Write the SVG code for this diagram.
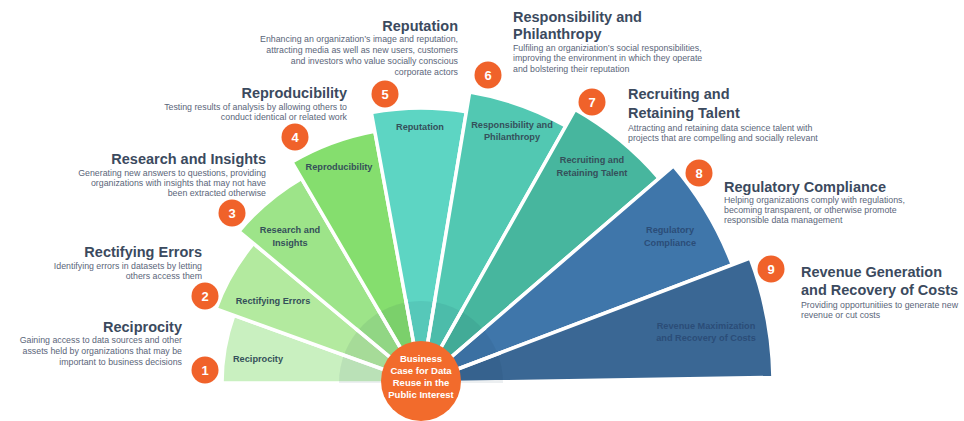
<svg xmlns="http://www.w3.org/2000/svg" width="964" height="421" viewBox="0 0 964 421">
<style>
text{font-family:"Liberation Sans",Arial,sans-serif}
.w{stroke:#fff;stroke-width:3.5;stroke-linejoin:miter}
.wl{font-size:9.2px;font-weight:bold;fill:#35505a;text-anchor:middle}
.wlb{font-size:9.2px;font-weight:bold;fill:#2b4d78;text-anchor:middle}
.t{font-size:14.5px;font-weight:bold;fill:#3b4a5e}
.d{font-size:8.8px;fill:#5a6579}
.e{text-anchor:end}
.n{fill:#f0622a}
.nt{font-size:13px;font-weight:bold;fill:#fff;text-anchor:middle}
.sep{stroke:#fff;stroke-width:3.5}
.c{font-size:9.5px;font-weight:bold;fill:#fff;text-anchor:middle}
</style>
<rect width="964" height="421" fill="#fff"/>
<g id="wedges">
<g id="w1"><path class="w" fill="#c9f0c0" d="M421,383 L222,383 A199,199 0 0,1 233.88,315.26 Z"/></g>
<g id="w2"><path class="w" fill="#b3ea9f" d="M421,383 L216.01,308.79 A218,218 0 0,1 253.51,243.46 Z"/></g>
<g id="w3"><path class="w" fill="#9de489" d="M421,383 L238.91,231.3 A237,237 0 0,1 301.43,178.37 Z"/></g>
<g id="w4"><path class="w" fill="#85de6e" d="M421,383 L291.85,161.97 A256,256 0 0,1 374.79,131.2 Z"/></g>
<g id="w5"><path class="w" fill="#5dd5c3" d="M421,383 L371.36,112.51 A275,275 0 0,1 466.38,111.77 Z"/></g>
<g id="w6"><path class="w" fill="#52c8b2" d="M421,383 L469.68,92.04 A295,295 0 0,1 565.82,126 Z"/></g>
<g id="w7"><path class="w" fill="#47b69e" d="M421,383 L575.14,109.44 A314,314 0 0,1 659.04,178.24 Z"/></g>
<g id="w8"><path class="w" fill="#3f76aa" d="M421,383 L673.45,165.85 A333,333 0 0,1 732.29,264.75 Z"/></g>
<g id="w9"><path class="w" fill="#3a6794" d="M421,383 L750.05,258 A352,352 0 0,1 772.96,377.47 Z"/></g>
</g>
<g id="ring">
<path d="M339,383 A82,82 0 0,1 503,383 Z" fill="#0a3050" fill-opacity="0.08"/>
<g class="sep">
<line x1="421" y1="383" x2="341.07" y2="354.07"/>
<line x1="421" y1="383" x2="355.69" y2="328.59"/>
<line x1="421" y1="383" x2="378.12" y2="309.61"/>
<line x1="421" y1="383" x2="405.66" y2="299.39"/>
<line x1="421" y1="383" x2="435.03" y2="299.16"/>
<line x1="421" y1="383" x2="462.73" y2="308.95"/>
<line x1="421" y1="383" x2="485.44" y2="327.57"/>
<line x1="421" y1="383" x2="500.46" y2="352.82"/>
</g>
</g>
<g id="wedge-labels">
<text class="wl" x="258" y="362">Reciprocity</text>
<text class="wl" x="273" y="304">Rectifying Errors</text>
<text class="wl" x="290" y="233">Research and</text>
<text class="wl" x="290" y="246">Insights</text>
<text class="wl" x="339" y="170">Reproducibility</text>
<text class="wl" x="420" y="130">Reputation</text>
<text class="wl" x="512" y="128">Responsibility and</text>
<text class="wl" x="512" y="140">Philanthropy</text>
<text class="wl" x="592" y="163">Recruiting and</text>
<text class="wl" x="592" y="176">Retaining Talent</text>
<text class="wlb" x="670" y="233">Regulatory</text>
<text class="wlb" x="670" y="246">Compliance</text>
<text class="wlb" x="706" y="329">Revenue Maximization</text>
<text class="wlb" x="706" y="341">and Recovery of Costs</text>
</g>
<g id="center">
<circle cx="421" cy="381" r="40" fill="#f26b2c"/>
<text class="c" x="421" y="362">Business</text>
<text class="c" x="421" y="374">Case for Data</text>
<text class="c" x="421" y="386">Reuse in the</text>
<text class="c" x="421" y="398">Public Interest</text>
</g>
<g id="item1">
<circle class="n" cx="205" cy="370" r="13.5"/><text class="nt" x="205" y="375">1</text>
<text class="t e" x="182" y="332">Reciprocity</text>
<text class="d e" x="182"><tspan x="182" y="343">Gaining access to data sources and other</tspan><tspan x="182" y="354">assets held by organizations that may be</tspan><tspan x="182" y="365">important to business decisions</tspan></text>
</g>
<g id="item2">
<circle class="n" cx="205" cy="296" r="13.5"/><text class="nt" x="205" y="301">2</text>
<text class="t e" x="202" y="257">Rectifying Errors</text>
<text class="d e"><tspan x="202" y="269">Identifying errors in datasets by letting</tspan><tspan x="202" y="279">others access them</tspan></text>
</g>
<g id="item3">
<circle class="n" cx="232" cy="213" r="13.5"/><text class="nt" x="232" y="218">3</text>
<text class="t e" x="266" y="164">Research and Insights</text>
<text class="d e"><tspan x="266" y="176">Generating new answers to questions, providing</tspan><tspan x="266" y="186">organizations with insights that may not have</tspan><tspan x="266" y="196">been extracted otherwise</tspan></text>
</g>
<g id="item4">
<circle class="n" cx="295" cy="137" r="13.5"/><text class="nt" x="295" y="142">4</text>
<text class="t e" x="347" y="98">Reproducibility</text>
<text class="d e"><tspan x="347" y="110">Testing results of analysis by allowing others to</tspan><tspan x="347" y="120">conduct identical or related work</tspan></text>
</g>
<g id="item5">
<circle class="n" cx="385" cy="94" r="13.5"/><text class="nt" x="385" y="99">5</text>
<text class="t e" x="458" y="31">Reputation</text>
<text class="d e"><tspan x="458" y="42">Enhancing an organization’s image and reputation,</tspan><tspan x="458" y="53">attracting media as well as new users, customers</tspan><tspan x="458" y="64">and investors who value socially conscious</tspan><tspan x="458" y="75">corporate actors</tspan></text>
</g>
<g id="item6">
<circle class="n" cx="488" cy="75" r="13.5"/><text class="nt" x="488" y="80">6</text>
<text class="t"><tspan x="513" y="22">Responsibility and</tspan><tspan x="513" y="39">Philanthropy</tspan></text>
<text class="d"><tspan x="513" y="51">Fulfiling an organiziation’s social responsibilities,</tspan><tspan x="513" y="61">improving the environment in which they operate</tspan><tspan x="513" y="72">and bolstering their reputation</tspan></text>
</g>
<g id="item7">
<circle class="n" cx="592" cy="102" r="13.5"/><text class="nt" x="592" y="107">7</text>
<text class="t"><tspan x="628" y="99">Recruiting and</tspan><tspan x="628" y="118">Retaining Talent</tspan></text>
<text class="d"><tspan x="628" y="131">Attracting and retaining data science talent with</tspan><tspan x="628" y="141">projects that are compelling and socially relevant</tspan></text>
</g>
<g id="item8">
<circle class="n" cx="699" cy="173" r="13.5"/><text class="nt" x="699" y="178">8</text>
<text class="t" x="724" y="192">Regulatory Compliance</text>
<text class="d"><tspan x="724" y="203">Helping organizations comply with regulations,</tspan><tspan x="724" y="213">becoming transparent, or otherwise promote</tspan><tspan x="724" y="223">responsible data management</tspan></text>
</g>
<g id="item9">
<circle class="n" cx="771" cy="269" r="13.5"/><text class="nt" x="771" y="274">9</text>
<text class="t"><tspan x="801" y="277">Revenue Generation</tspan><tspan x="801" y="295">and Recovery of Costs</tspan></text>
<text class="d"><tspan x="801" y="308">Providing opportunitiies to generate new</tspan><tspan x="801" y="318">revenue or cut costs</tspan></text>
</g>
<g id="connectors"></g>
</svg>
